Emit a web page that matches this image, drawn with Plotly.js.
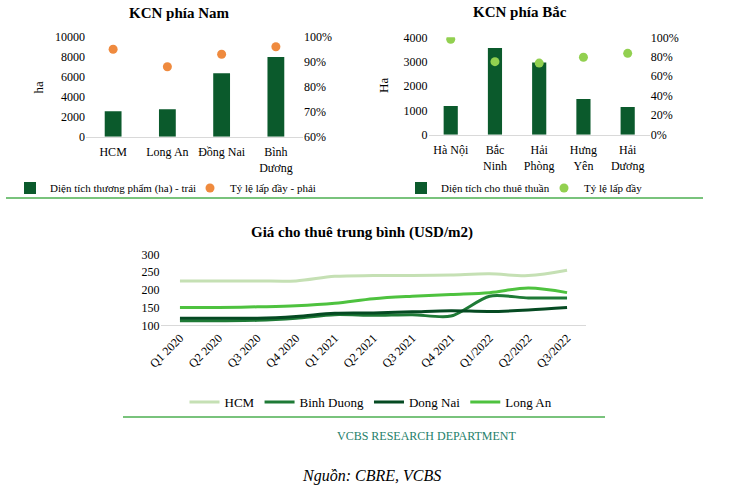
<!DOCTYPE html>
<html>
<head>
<meta charset="utf-8">
<script src="https://cdn.plot.ly/plotly-3.0.1.min.js"></script>
<style>
  html, body { margin: 0; padding: 0; background: #fff; }
  #chart { width: 750px; height: 503px; }
</style>
</head>
<body>
<div id="chart"></div>
<script>
// KCN phía Nam
const southRegions = ['HCM', 'Long An', 'Đồng Nai', 'Bình<br>Dương'];
const southArea = [2550, 2750, 6350, 7980];
const southOccupancy = [0.95, 0.88, 0.93, 0.96];

// KCN phía Bắc
const northRegions = ['Hà Nội', 'Bắc<br>Ninh', 'Hải<br>Phòng', 'Hưng<br>Yên', 'Hải<br>Dương'];
const northArea = [1180, 3560, 2970, 1470, 1140];
const northOccupancy = [0.98, 0.75, 0.735, 0.795, 0.835];

// Giá cho thuê trung bình (USD/m2)
const quarters = ['Q1 2020', 'Q2 2020', 'Q3 2020', 'Q4 2020', 'Q1 2021', 'Q2 2021',
                  'Q3 2021', 'Q4 2021', 'Q1/2022', 'Q2/2022', 'Q3/2022'];
const rentHCM = [225, 225, 225, 225, 238, 240, 240, 242, 245, 240, 255];
const rentBinhDuong = [113, 113, 114, 120, 130, 128, 130, 126, 182, 177, 177];
const rentDongNai = [120, 120, 120, 125, 134, 135, 138, 141, 139, 143, 150];
const rentLongAn = [150, 150, 152, 155, 162, 175, 182, 187, 192, 205, 192];

const W = 750, H = 503;
const px = x => x / W;
const py = y => 1 - y / H;

const serif = 'Liberation Serif, Times New Roman, serif';
const barGreen = '#0b5a2c';
const lineGreen = '#4caf50';

const traces = [
    {
        type: 'bar', x: southRegions, y: southArea, xaxis: 'x', yaxis: 'y',
        width: 0.31, marker: { color: barGreen },
        name: 'Diện tích thương phẩm (ha) - trái', legend: 'legend'
    },
    {
        type: 'scatter', mode: 'markers', x: southRegions, y: southOccupancy, xaxis: 'x', yaxis: 'y2',
        marker: { color: '#ef8a3e', size: 9 },
        name: 'Tỷ lệ lấp đầy - phải', legend: 'legend2'
    },
    {
        type: 'bar', x: northRegions, y: northArea, xaxis: 'x2', yaxis: 'y3',
        width: 0.32, marker: { color: barGreen },
        name: 'Diện tích cho thuê thuần', legend: 'legend3'
    },
    {
        type: 'scatter', mode: 'markers', x: northRegions, y: northOccupancy, xaxis: 'x2', yaxis: 'y4',
        marker: { color: '#92d050', size: 9 },
        name: 'Tỷ lệ lấp đầy', legend: 'legend4'
    },
    {
        type: 'scatter', mode: 'lines', x: quarters, y: rentHCM, xaxis: 'x3', yaxis: 'y5',
        line: { color: '#c5e0b4', width: 3, shape: 'spline' }, name: 'HCM', legend: 'legend5'
    },
    {
        type: 'scatter', mode: 'lines', x: quarters, y: rentBinhDuong, xaxis: 'x3', yaxis: 'y5',
        line: { color: '#1e7a36', width: 3, shape: 'spline', smoothing: 0.8 }, name: 'Binh Duong', legend: 'legend5'
    },
    {
        type: 'scatter', mode: 'lines', x: quarters, y: rentDongNai, xaxis: 'x3', yaxis: 'y5',
        line: { color: '#054a22', width: 3, shape: 'spline' }, name: 'Dong Nai', legend: 'legend5'
    },
    {
        type: 'scatter', mode: 'lines', x: quarters, y: rentLongAn, xaxis: 'x3', yaxis: 'y5',
        line: { color: '#4ec23f', width: 3, shape: 'spline' }, name: 'Long An', legend: 'legend5'
    }
];

const tickFont = { family: serif, size: 12, color: '#000' };

function catAxis(domain, anchor, extra) {
    return Object.assign({
        domain: domain, anchor: anchor, type: 'category',
        showline: true, linecolor: '#d9d9d9', linewidth: 1,
        showgrid: false, zeroline: false, ticks: '', tickfont: tickFont
    }, extra || {});
}

function valAxis(domain, anchor, range, dtick, extra) {
    return Object.assign({
        domain: domain, anchor: anchor, range: range, dtick: dtick,
        showgrid: false, zeroline: false, showline: false, ticks: '',
        tickfont: tickFont, tickformat: 'd'
    }, extra || {});
}

function legendAt(x, y, size) {
    return {
        x: px(x), y: py(y), xanchor: 'left', yanchor: 'middle',
        orientation: 'h', bgcolor: 'rgba(0,0,0,0)', itemwidth: 30,
        font: { family: serif, size: size, color: '#000' }
    };
}

function label(text, x, y, size, extra) {
    return Object.assign({
        text: text, xref: 'paper', yref: 'paper', x: px(x), y: py(y),
        xanchor: 'center', yanchor: 'middle', showarrow: false,
        font: { family: serif, size: size, color: '#000' }
    }, extra || {});
}

const southDomainY = [py(136.7), py(36.7)];
const northDomainY = [py(134.7), py(37.3)];

const layout = {
    width: W, height: H,
    margin: { l: 0, r: 0, t: 0, b: 0 },
    paper_bgcolor: '#fff', plot_bgcolor: 'rgba(0,0,0,0)',
    showlegend: true,
    font: { family: serif, color: '#000' },

    xaxis: catAxis([px(86), px(303)], 'y', { ticklabelstandoff: 4 }),
    yaxis: valAxis(southDomainY, 'x', [0, 10000], 2000),
    yaxis2: valAxis(southDomainY, 'x', [0.6, 1.0], 0.1, { overlaying: 'y', side: 'right', tickformat: '.0%' }),

    xaxis2: catAxis([px(428.6), px(649.8)], 'y3', { ticklabelstandoff: 4 }),
    yaxis3: valAxis(northDomainY, 'x2', [0, 4000], 1000),
    yaxis4: valAxis(northDomainY, 'x2', [0, 1], 0.2, { overlaying: 'y3', side: 'right', tickformat: '.0%' }),

    xaxis3: catAxis([px(160.6), px(586.4)], 'y5', { tickangle: -45, range: [-0.5, 10.5] }),
    yaxis5: valAxis([py(325.3), py(254.3)], 'x3', [100, 300], 50),

    legend: legendAt(10, 188, 11),
    legend2: legendAt(190, 188, 11),
    legend3: legendAt(401, 188, 11),
    legend4: legendAt(544, 188, 11),
    legend5: Object.assign(legendAt(371, 402, 13), { xanchor: 'center' }),

    annotations: [
        label('<b>KCN phía Nam</b>', 179, 13, 15),
        label('<b>KCN phía Bắc</b>', 520, 12, 15),
        label('<b>Giá cho thuê trung bình (USD/m2)</b>', 362, 232, 15),
        label('ha', 37.5, 87, 13, { textangle: -90 }),
        label('Ha', 384, 86, 13, { textangle: -90 }),
        label('VCBS RESEARCH DEPARTMENT', 427, 436, 12,
              { font: { family: serif, size: 12, color: '#25806a' } }),
        label('<i>Nguồn: CBRE, VCBS</i>', 371, 476, 16)
    ],

    shapes: [
        { type: 'line', xref: 'paper', yref: 'paper', x0: px(6), x1: px(703), y0: py(198), y1: py(198),
          line: { color: lineGreen, width: 1.5 } },
        { type: 'line', xref: 'paper', yref: 'paper', x0: px(123), x1: px(605), y0: py(417), y1: py(417),
          line: { color: lineGreen, width: 1.5 } }
    ]
};

Plotly.newPlot('chart', traces, layout, { displayModeBar: false, staticPlot: true });
</script>
</body>
</html>
